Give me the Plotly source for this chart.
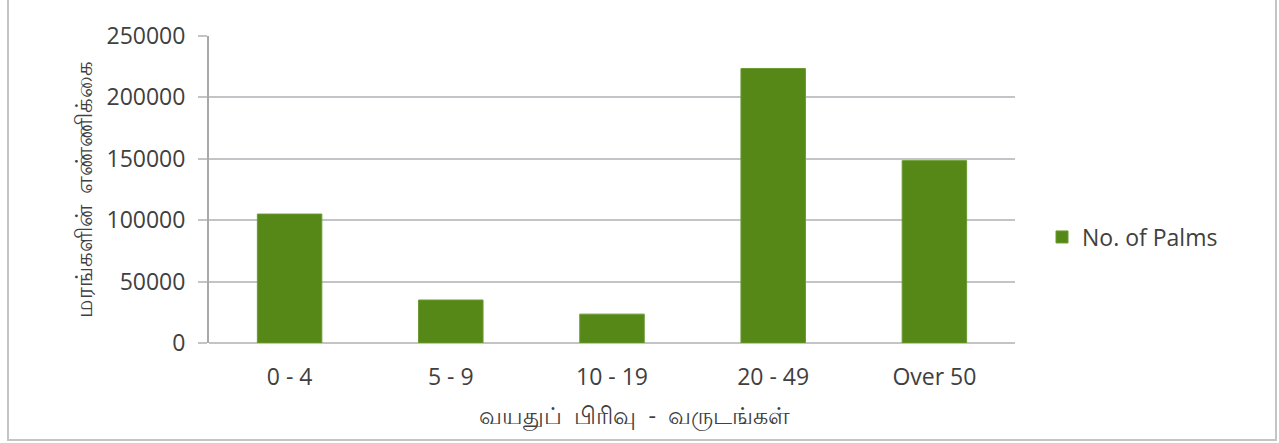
import plotly.graph_objects as go

categories = ["0 - 4", "5 - 9", "10 - 19", "20 - 49", "Over 50"]
palms = [105000, 35000, 23500, 223500, 148500]
series_name = "No. of Palms"
y_title = "மரங்களின்\u00a0\u00a0எண்ணிக்கை"
x_title = "வயதுப்\u00a0\u00a0பிரிவு\u00a0\u00a0-\u00a0\u00a0வருடங்கள்"
y_ticks = [0, 50000, 100000, 150000, 200000, 250000]

W, H = 1279, 443
L, R, T, B = 209, 1015, 36, 343
pw, ph = R - L, B - T

def px_x(p):
    return (p - L) / pw

def px_y(p):
    return (B - p) / ph

font = "Open Sans, Liberation Sans, sans-serif"
txt = "#404040"
grid = "#c4c4c8"

fig = go.Figure()
fig.add_trace(go.Bar(x=categories, y=palms, name=series_name,
                     marker=dict(color="#558817", line=dict(color="#6a9a30", width=1)),
                     showlegend=True))

fig.update_layout(
    width=W, height=H,
    margin=dict(l=L, r=W - R, t=T, b=H - B),
    paper_bgcolor="white", plot_bgcolor="white",
    bargap=0.6,
    font=dict(family=font, size=24, color=txt),
    showlegend=True,
    legend=dict(x=px_x(1042), y=px_y(237), xanchor="left", yanchor="middle",
                font=dict(size=23, color=txt), bgcolor="rgba(0,0,0,0)",
                itemwidth=30),
    xaxis=dict(showgrid=False, showline=False, ticks="", tickfont=dict(size=23, color=txt),
               ticklabelstandoff=18),
    yaxis=dict(range=[0, 250000], tickvals=y_ticks, ticktext=[str(v) for v in y_ticks],
               showgrid=True, gridcolor=grid, gridwidth=2,
               showline=True, linecolor="#a8a8a8", linewidth=2,
               ticks="outside", ticklen=9, tickcolor=grid, tickwidth=2,
               ticklabelstandoff=8,
               zeroline=True, zerolinecolor=grid, zerolinewidth=2,
               tickfont=dict(size=23, color=txt),
               title=dict(text=y_title, font=dict(size=23, color=txt), standoff=7)),
    annotations=[
        dict(text=x_title, xref="paper", yref="paper", x=px_x(634), y=px_y(415),
             xanchor="center", yanchor="middle", showarrow=False,
             font=dict(size=23.5, color=txt)),
    ],
    shapes=[
        dict(type="rect", xref="paper", yref="paper",
             x0=px_x(8), x1=px_x(1276), y0=px_y(440), y1=px_y(-5),
             line=dict(color="#c4c4c4", width=2), fillcolor="rgba(0,0,0,0)", layer="below"),
    ],
)

fig.write_html("out.html", config={"displayModeBar": False},
               post_script="document.body.style.margin='0';document.body.style.overflow='hidden';")
